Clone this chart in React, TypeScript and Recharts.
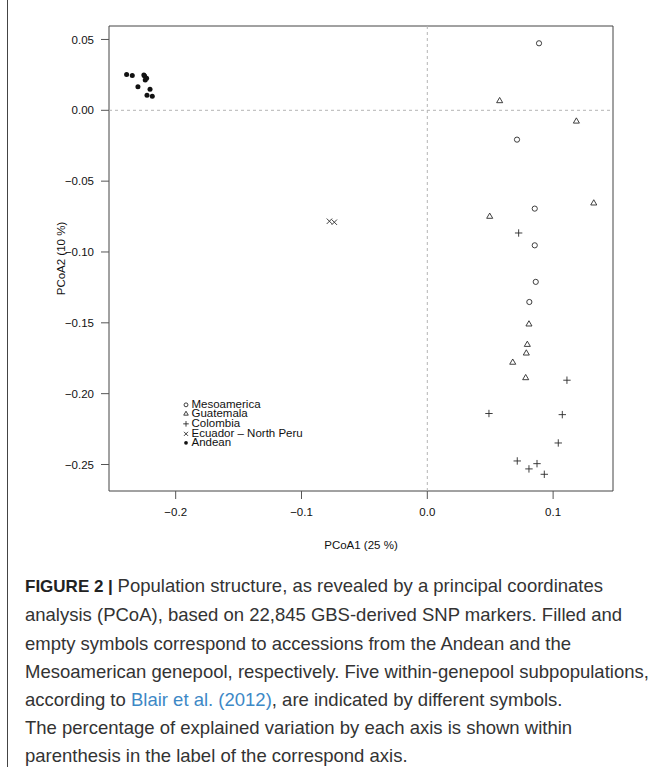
import React from "react";
import {
  ScatterChart,
  Scatter,
  XAxis,
  YAxis,
  ReferenceLine,
  ReferenceArea,
  Legend,
} from "recharts";

// PCoA coordinates (PCoA1, PCoA2)
const mesoamericaX = [0.0888, 0.0713, 0.0854, 0.0854, 0.0862, 0.0811];
const mesoamericaY = [0.0473, -0.0207, -0.0694, -0.0953, -0.1211, -0.1353];
const guatemalaX = [0.0575, 0.1185, 0.1323, 0.0496, 0.0808, 0.0795, 0.0787, 0.0679, 0.0782];
const guatemalaY = [0.0066, -0.0078, -0.0656, -0.075, -0.151, -0.1654, -0.1715, -0.178, -0.1889];
const colombiaX = [0.0726, 0.111, 0.049, 0.1073, 0.1041, 0.0715, 0.0872, 0.0808, 0.093];
const colombiaY = [-0.0866, -0.1905, -0.214, -0.2148, -0.2348, -0.2475, -0.2494, -0.2531, -0.2569];
const ecuadorX = [-0.0778, -0.0739];
const ecuadorY = [-0.0783, -0.079];
const andeanX = [-0.239, -0.2345, -0.2253, -0.2247, -0.2231, -0.2242, -0.23, -0.2204, -0.2228, -0.2186];
const andeanY = [0.0252, 0.0245, 0.0249, 0.0242, 0.0226, 0.0214, 0.0167, 0.0148, 0.0106, 0.0099];

const xTicks = [-0.2, -0.1, 0, 0.1];
const yTicks = [0.05, 0, -0.05, -0.1, -0.15, -0.2, -0.25];
const X_DOMAIN: [number, number] = [-0.253, 0.1476];
const Y_DOMAIN: [number, number] = [-0.2687, 0.0595];

const legendNames = ["Mesoamerica", "Guatemala", "Colombia", "Ecuador \u2013 North Peru", "Andean"];
const legendKinds = ["circle", "triangle", "plus", "cross", "dot"];

const zip = (xs: number[], ys: number[]) => xs.map((x, i) => ({ x, y: ys[i] }));

const INK = "#2a2a2a";
const FONT = '"Liberation Sans", Arial, Helvetica, sans-serif';

function Marker({ kind, cx, cy, s = 1 }: { kind: string; cx: number; cy: number; s?: number }) {
  const sw = 0.9;
  if (kind === "circle") {
    return <circle cx={cx} cy={cy} r={2.6 * s} fill="none" stroke={INK} strokeWidth={sw} />;
  }
  if (kind === "dot") {
    return <circle cx={cx} cy={cy} r={2.5 * s} fill="#111" />;
  }
  if (kind === "triangle") {
    const r = 3.5 * s;
    const pts = `${cx},${cy - r} ${cx + r * 0.866},${cy + r / 2} ${cx - r * 0.866},${cy + r / 2}`;
    return <polygon points={pts} fill="none" stroke={INK} strokeWidth={sw} />;
  }
  if (kind === "plus") {
    const h = 3.7 * s;
    return (
      <path d={`M${cx - h},${cy}H${cx + h}M${cx},${cy - h}V${cy + h}`} stroke={INK} strokeWidth={sw} />
    );
  }
  const h = 2.7 * s;
  return (
    <path
      d={`M${cx - h},${cy - h}L${cx + h},${cy + h}M${cx - h},${cy + h}L${cx + h},${cy - h}`}
      stroke={INK}
      strokeWidth={sw}
    />
  );
}

const shapeOf = (kind: string) => (p: any) => <Marker kind={kind} cx={p.cx} cy={p.cy} />;

const fmtY = (v: number) => (v < 0 ? "\u2212" : "") + Math.abs(v).toFixed(2);
const fmtX = (v: number) => (v < 0 ? "\u2212" : "") + Math.abs(v).toFixed(1);

function LegendBox() {
  return (
    <div style={{ fontSize: 11.5, color: "#111", fontFamily: FONT }}>
      {legendNames.map((name, i) => (
        <div key={name} style={{ display: "flex", height: 9.7, lineHeight: "9.7px", whiteSpace: "nowrap" }}>
          <svg width={9.5} height={9.7} style={{ overflow: "visible" }}>
            <Marker kind={legendKinds[i]} cx={4} cy={4.85} s={0.75} />
          </svg>
          <span>{name}</span>
        </div>
      ))}
    </div>
  );
}

function XTitle(props: any) {
  const vb = props.viewBox;
  return (
    <text x={vb.x + vb.width / 2} y={549} textAnchor="middle" fontSize={11.5} fill="#111">
      PCoA1 (25 %)
    </text>
  );
}

function YTitle(props: any) {
  const vb = props.viewBox;
  const cy = vb.y + vb.height / 2;
  return (
    <text
      x={61}
      y={cy}
      textAnchor="middle"
      dominantBaseline="central"
      fontSize={11.5}
      fill="#111"
      transform={`rotate(-90, 61, ${cy})`}
    >
      PCoA2 (10 %)
    </text>
  );
}

const capStyle: React.CSSProperties = { whiteSpace: "pre" };

export default function App() {
  return (
    <div
      style={{
        position: "absolute",
        left: 0,
        top: 0,
        width: 657,
        height: 767,
        background: "#fff",
        overflow: "hidden",
        fontFamily: FONT,
      }}
    >
      <div style={{ position: "absolute", left: 7, top: 0, width: 1, height: 767, background: "#444" }} />
      <div style={{ position: "absolute", left: 0, top: 0 }}>
        <ScatterChart width={657} height={560} margin={{ top: 26, right: 44, left: 0, bottom: 0 }}>
          <XAxis
            type="number"
            dataKey="x"
            domain={X_DOMAIN}
            ticks={xTicks}
            allowDataOverflow
            tickFormatter={fmtX}
            height={69}
            axisLine={false}
            tickSize={8}
            tickMargin={9}
            tickLine={{ stroke: "#555" }}
            tick={{ fontSize: 11.5, fill: "#111" }}
            label={<XTitle />}
          />
          <YAxis
            type="number"
            dataKey="y"
            domain={Y_DOMAIN}
            ticks={yTicks}
            allowDataOverflow
            tickFormatter={fmtY}
            width={109}
            axisLine={false}
            tickSize={8}
            tickMargin={7}
            tickLine={{ stroke: "#555" }}
            tick={{ fontSize: 11.5, fill: "#111" }}
            label={<YTitle />}
          />
          <ReferenceLine x={0} stroke="#b5b5b5" strokeDasharray="3 3" />
          <ReferenceLine y={0} stroke="#b5b5b5" strokeDasharray="3 3" />
          <ReferenceArea
            x1={X_DOMAIN[0]}
            x2={X_DOMAIN[1]}
            y1={Y_DOMAIN[0]}
            y2={Y_DOMAIN[1]}
            fill="none"
            fillOpacity={0}
            stroke="#444"
            strokeWidth={1}
            ifOverflow="visible"
          />
          <Scatter name="Mesoamerica" data={zip(mesoamericaX, mesoamericaY)} shape={shapeOf("circle")} isAnimationActive={false} />
          <Scatter name="Guatemala" data={zip(guatemalaX, guatemalaY)} shape={shapeOf("triangle")} isAnimationActive={false} />
          <Scatter name="Colombia" data={zip(colombiaX, colombiaY)} shape={shapeOf("plus")} isAnimationActive={false} />
          <Scatter name="Ecuador – North Peru" data={zip(ecuadorX, ecuadorY)} shape={shapeOf("cross")} isAnimationActive={false} />
          <Scatter name="Andean" data={zip(andeanX, andeanY)} shape={shapeOf("dot")} isAnimationActive={false} />
          <Legend
            layout="horizontal"
            verticalAlign="middle"
            align="center"
            content={() => <LegendBox />}
            wrapperStyle={{ left: 182, top: 399.5, width: "auto", height: "auto" }}
          />
        </ScatterChart>
      </div>
      <div
        style={{
          position: "absolute",
          left: 25,
          top: 572.2,
          fontSize: 18.5,
          lineHeight: "28.2px",
          color: "#333",
        }}
      >
        <div style={capStyle}>
          <b style={{ color: "#222", fontSize: 17 }}>FIGURE 2 | </b>Population structure, as revealed by a principal coordinates
        </div>
        <div style={capStyle}>analysis (PCoA), based on 22,845 GBS-derived SNP markers. Filled and</div>
        <div style={capStyle}>empty symbols correspond to accessions from the Andean and the</div>
        <div style={capStyle}>Mesoamerican genepool, respectively. Five within-genepool subpopulations,</div>
        <div style={capStyle}>
          according to <span style={{ color: "#3d88c6" }}>Blair et al. (2012)</span>, are indicated by different symbols.
        </div>
        <div style={capStyle}>The percentage of explained variation by each axis is shown within</div>
        <div style={capStyle}>parenthesis in the label of the correspond axis.</div>
      </div>
    </div>
  );
}
